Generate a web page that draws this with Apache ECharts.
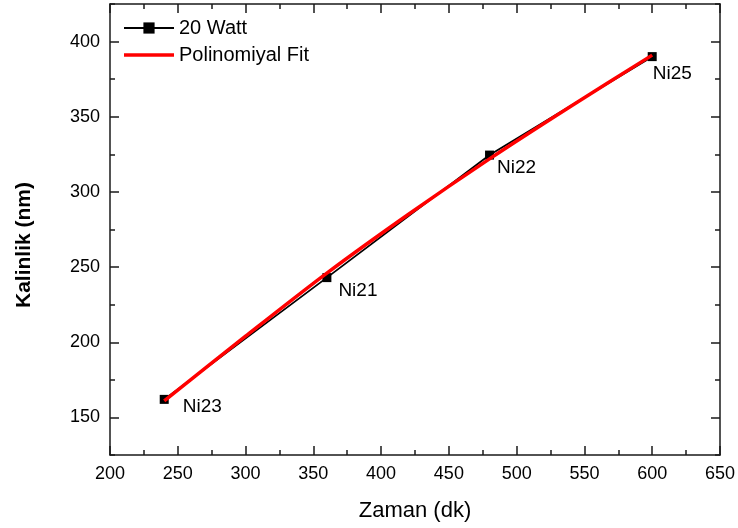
<!DOCTYPE html>
<html>
<head>
<meta charset="utf-8">
<script src="https://cdn.jsdelivr.net/npm/echarts@6/dist/echarts.min.js"></script>
<style>
  html, body { margin: 0; padding: 0; background: #fff; }
  #chart { width: 738px; height: 528px; }
</style>
</head>
<body>
<div id="chart"></div>
<script>
// Film thickness versus deposition time at 20 W
const timeMin = [240, 360, 480, 600];
const thicknessNm = [162, 243, 324.5, 390];
const sampleNames = ['Ni23', 'Ni21', 'Ni22', 'Ni25'];

// Polynomial fit curve, sampled along the time axis
const fitTime = [240, 300, 360, 420, 480, 540, 600];
const fitThickness = [161, 204, 246, 285, 322, 357, 391];

// Axis ticks
const xMajorTicks = [200, 250, 300, 350, 400, 450, 500, 550, 600, 650];
const xMinorTicks = [225, 275, 325, 375, 425, 475, 525, 575, 625];
const yMajorTicks = [150, 200, 250, 300, 350, 400];
const yMinorTicks = [125, 175, 225, 275, 325, 375, 425];

const FONT = '"Liberation Sans", Arial, sans-serif';
const AXIS_COLOR = '#1a1a1a';

// Label offsets next to each sample marker
const labelOffsets = [[14, 7], [7, 13], [3, 13], [-4, 17]];

const chart = echarts.init(document.getElementById('chart'), null, { renderer: 'canvas' });

function xAxisDef(position, ticks, len, showLabel, showLine) {
  return {
    type: 'value', min: 200, max: 650, position: position,
    axisLine: { show: showLine, onZero: false, lineStyle: { color: AXIS_COLOR, width: 1.5 } },
    axisTick: { show: true, inside: true, length: len, customValues: ticks,
                lineStyle: { color: AXIS_COLOR, width: 1.5 } },
    axisLabel: showLabel
      ? { show: true, customValues: xMajorTicks, color: '#000', fontFamily: FONT, fontSize: 18, margin: 10 }
      : { show: false },
    splitLine: { show: false }
  };
}

function yAxisDef(position, ticks, len, showLabel, showLine) {
  return {
    type: 'value', min: 125, max: 425, position: position,
    axisLine: { show: showLine, onZero: false, lineStyle: { color: AXIS_COLOR, width: 1.5 } },
    axisTick: { show: true, inside: true, length: len, customValues: ticks,
                lineStyle: { color: AXIS_COLOR, width: 1.5 } },
    axisLabel: showLabel
      ? { show: true, customValues: yMajorTicks, color: '#000', fontFamily: FONT, fontSize: 18, margin: 10 }
      : { show: false },
    splitLine: { show: false }
  };
}

const xAxes = [
  xAxisDef('bottom', xMajorTicks, 9, true, true),
  xAxisDef('bottom', xMinorTicks, 5, false, false),
  xAxisDef('top', xMajorTicks, 9, false, true),
  xAxisDef('top', xMinorTicks, 5, false, false)
];
const yAxes = [
  yAxisDef('left', yMajorTicks, 9, true, true),
  yAxisDef('left', yMinorTicks, 5, false, false),
  yAxisDef('right', yMajorTicks, 9, false, true),
  yAxisDef('right', yMinorTicks, 5, false, false)
];

const measured = timeMin.map((t, i) => ({
  value: [t, thicknessNm[i]],
  label: {
    show: true, formatter: sampleNames[i], position: 'right', distance: 0,
    offset: labelOffsets[i], color: '#000', fontFamily: FONT, fontSize: 19
  }
}));

const fitted = fitTime.map((t, i) => [t, fitThickness[i]]);

chart.setOption({
  backgroundColor: '#fff',
  animation: false,
  grid: { left: 110, right: 18, top: 4, bottom: 73, containLabel: false },
  xAxis: xAxes,
  yAxis: yAxes,
  legend: {
    left: 118, top: 13, orient: 'vertical',
    itemWidth: 50, itemHeight: 14, itemGap: 7,
    textStyle: { color: '#000', fontFamily: FONT, fontSize: 20, lineHeight: 20 },
    data: [
      { name: '20 Watt' },
      { name: 'Polinomiyal Fit', icon: 'path://M0,0h50v3.5h-50z', itemStyle: { color: '#ff0000' } }
    ]
  },
  graphic: [
    {
      type: 'text', x: 415, y: 511,
      style: { text: 'Zaman (dk)', fill: '#000', font: '22px ' + FONT, textAlign: 'center', textVerticalAlign: 'middle' }
    },
    {
      type: 'text', x: 24, y: 245, rotation: Math.PI / 2,
      style: { text: 'Kalinlik (nm)', fill: '#000', font: 'bold 21px ' + FONT, textAlign: 'center', textVerticalAlign: 'middle' }
    }
  ],
  series: [
    {
      name: '20 Watt', type: 'line', data: measured,
      symbol: 'rect', symbolSize: 9,
      itemStyle: { color: '#000' },
      lineStyle: { color: '#000', width: 1.8 },
      z: 2
    },
    {
      name: 'Polinomiyal Fit', type: 'line', data: fitted,
      symbol: 'none', smooth: 0.3,
      itemStyle: { color: '#ff0000' },
      lineStyle: { color: '#ff0000', width: 3.5 },
      z: 3
    }
  ]
});
</script>
</body>
</html>
